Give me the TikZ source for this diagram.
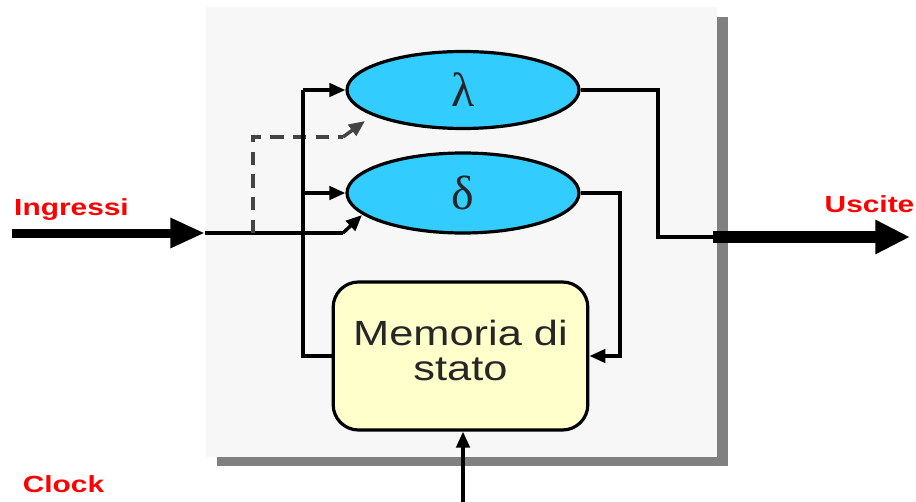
\documentclass[tikz,border=0pt]{standalone}
\usepackage{fontspec}
\setmainfont{Liberation Sans}
\newfontfamily\greekfont{Liberation Serif}
\usetikzlibrary{shapes.geometric,arrows.meta}
\definecolor{panelbg}{HTML}{F7F7F7}
\definecolor{shadowc}{HTML}{808080}
\definecolor{ellfill}{HTML}{33CCFF}
\definecolor{memfill}{HTML}{FFFFCC}
\definecolor{labred}{HTML}{FF0000}
\definecolor{dashc}{HTML}{444444}
\begin{document}
\begin{tikzpicture}[x=0.75pt,y=-0.75pt,
  wire/.style={line width=2.6pt,line join=miter},
  arr/.style={wire,-{Triangle[length=12pt,width=10pt]}},
  dashwire/.style={line width=2.6pt,dashc,dash pattern=on 10pt off 7pt},
  ellnode/.style={ellipse,draw=black,line width=2.4pt,fill=ellfill,minimum width=174pt,inner sep=0pt,text=black!85},
  memnode/.style={rectangle,rounded corners=19pt,draw=black,line width=2.4pt,fill=memfill,minimum width=191pt,minimum height=111pt,inner sep=0pt,text=black!85},
  redlab/.style={text=labred,inner sep=0pt,anchor=base,font=\fontsize{17.5pt}{17.5pt}\selectfont\bfseries}
]
\useasboundingbox (0,0) rectangle (916,502);
\fill[white] (0,0) rectangle (916,502);
% panel with shadow
\fill[shadowc] (217,17) rectangle (728,466);
\fill[panelbg] (206,7) rectangle (717,457);

% nodes
\node[ellnode,minimum height=57.75pt] (lam) at (463,90) {\greekfont\fontsize{36pt}{36pt}\selectfont λ};
\node[ellnode,minimum height=60pt] (del) at (463,193) {\greekfont\fontsize{36pt}{36pt}\selectfont δ};
\node[memnode] (mem) at (460.5,356) {\fontsize{26.25pt}{26.25pt}\selectfont\raisebox{-4pt}{\scalebox{1.24}[1]{\begin{tabular}{@{}c@{}}Memoria di\\stato\end{tabular}}}};

% coordinates
\coordinate (inS) at (12,233);
\coordinate (inE) at (205,233);
\coordinate (inK) at (343,233);
\coordinate (delIn) at (362,215);
\coordinate (dashS) at (253,233);
\coordinate (dashK) at (343,137);
\coordinate (lamIn) at (365,121);
\coordinate (fbX) at (303,0);
\coordinate (outK) at (658,0);
\coordinate (outS) at (713,237);
\coordinate (outE) at (910,237);
\coordinate (dX) at (620,0);
\coordinate (clk) at (463,502);

% input
\draw[line width=6.75pt,-{Triangle[length=26pt,width=21pt]}] (inS) -- (inE);
\draw[wire] (inE) -- (inK);
\draw[arr] (inK) -- (delIn);
% dashed
\draw[dashwire] (dashS) -- (dashS |- dashK) -- (dashK);
\draw[wire,dashc,-{Triangle[length=12pt,width=10pt]}] (dashK) -- (lamIn);

% feedback from memory
\draw[wire] (mem.west) -- (fbX |- mem.west) -- (fbX |- lam.west);
\draw[arr] (fbX |- lam.west) -- (lam.west);
\draw[arr] (fbX |- del.west) -- (del.west);

% delta to memory
\draw[arr] (del.east) -- (dX |- del.east) -- (dX |- mem.east) -- (mem.east);

% lambda to output
\draw[wire] (lam.east) -- (outK |- lam.east) -- (outK |- outS) -- (outS);
\draw[line width=9pt,-{Triangle[length=26pt,width=24pt]}] (outS) -- (outE);

% clock
\draw[arr] (clk) -- (clk |- mem.south);

% labels
\node[redlab] (lin) at (71.5,215) {\scalebox{1.28}[1]{Ingressi}};
\node[redlab] (lout) at (869.5,213) {\scalebox{1.28}[1]{Uscite}};
\node[redlab] (lclk) at (63.5,492) {\scalebox{1.28}[1]{Clock}};
\end{tikzpicture}
\end{document}
